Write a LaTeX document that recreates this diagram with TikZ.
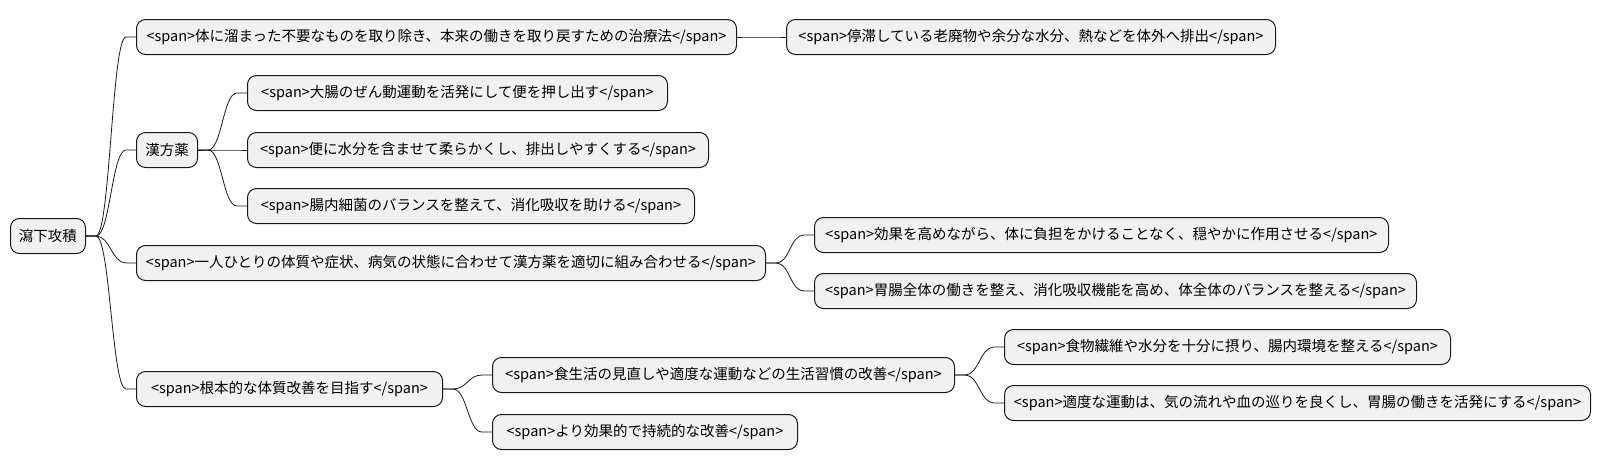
\documentclass[tikz,border=0pt]{standalone}
\usepackage{fontspec}
\setmainfont{Noto Sans CJK JP}
\usetikzlibrary{calc,positioning}
\definecolor{boxgray}{HTML}{F1F1F1}
\definecolor{edgegray}{HTML}{181818}

\begin{document}
\begin{tikzpicture}[x=1pt,y=-1pt,
    topic/.style={draw=edgegray,fill=boxgray,line width=1pt,rounded corners=9pt,
      minimum height=35pt,inner xsep=6pt,anchor=west,
      font=\fontsize{14.5}{17}\selectfont},
    branch/.style={edgegray,line width=0.8pt}]
  \useasboundingbox (0,0) rectangle (1601,471);

  % root
  \node[topic,minimum width=75pt] (root) at (10,236) {瀉下攻積};

  % first level
  \node[topic,minimum width=600pt] (detox) at (136,37)
    {<span>体に溜まった不要なものを取り除き、本来の働きを取り戻すための治療法</span>};
  \node[topic,minimum width=61pt] (kampo) at (136,150) {漢方薬};
  \node[topic,minimum width=629pt] (combine) at (136,263)
    {<span>一人ひとりの体質や症状、病気の状態に合わせて漢方薬を適切に組み合わせる</span>};
  \node[topic,minimum width=306pt] (improve) at (136,389)
    {<span>根本的な体質改善を目指す</span>};

  % second level
  \node[topic,minimum width=489pt] (excrete) at (786,37)
    {<span>停滞している老廃物や余分な水分、熱などを体外へ排出</span>};
  \node[topic,minimum width=420pt] (peristalsis) at (247,93)
    {<span>大腸のぜん動運動を活発にして便を押し出す</span>};
  \node[topic,minimum width=461pt] (soften) at (247,150)
    {<span>便に水分を含ませて柔らかくし、排出しやすくする</span>};
  \node[topic,minimum width=447pt] (flora) at (247,206)
    {<span>腸内細菌のバランスを整えて、消化吸収を助ける</span>};
  \node[topic,minimum width=574pt] (gentle) at (814,235)
    {<span>効果を高めながら、体に負担をかけることなく、穏やかに作用させる</span>};
  \node[topic,minimum width=602pt] (balance) at (814,291)
    {<span>胃腸全体の働きを整え、消化吸収機能を高め、体全体のバランスを整える</span>};
  \node[topic,minimum width=462pt] (habits) at (492,375)
    {<span>食生活の見直しや適度な運動などの生活習慣の改善</span>};
  \node[topic,minimum width=305pt] (lasting) at (492,432)
    {<span>より効果的で持続的な改善</span>};

  % third level
  \node[topic,minimum width=446pt] (diet) at (1004,347)
    {<span>食物繊維や水分を十分に摂り、腸内環境を整える</span>};
  \node[topic,minimum width=586pt] (exercise) at (1004,403)
    {<span>適度な運動は、気の流れや血の巡りを良くし、胃腸の働きを活発にする</span>};

  % connectors
  \foreach \p/\c in {root/detox,root/kampo,root/combine,root/improve,
      detox/excrete,kampo/peristalsis,kampo/soften,kampo/flora,
      combine/gentle,combine/balance,improve/habits,improve/lasting,
      habits/diet,habits/exercise}
    \draw[branch] (\p.east) -- ++(10,0)
      .. controls +(14,0) and +(-14,0) .. ($(\c.west)+(-10,0)$) -- (\c.west);
\end{tikzpicture}
\end{document}
